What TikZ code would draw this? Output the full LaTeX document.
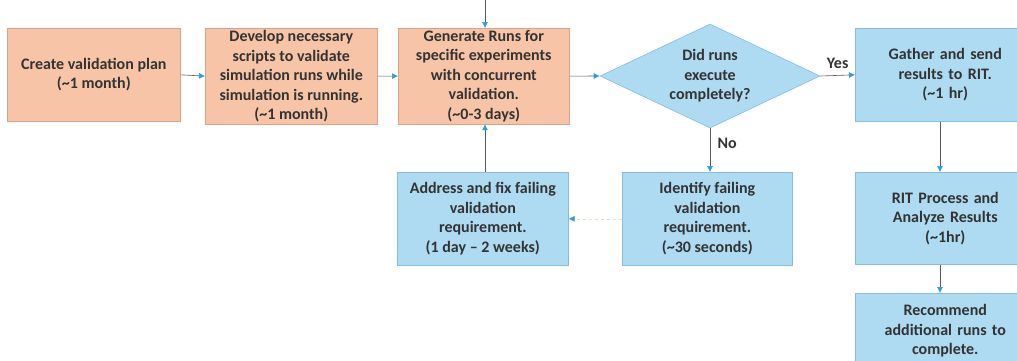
\documentclass[tikz,border=0pt]{standalone}
\usepackage{fontspec}
\setmainfont{Carlito}
\usetikzlibrary{arrows.meta,shapes.geometric}
\definecolor{orfill}{HTML}{F8C4A8}
\definecolor{ordraw}{HTML}{D8A488}
\definecolor{blfill}{HTML}{AEDAF2}
\definecolor{bldraw}{HTML}{86BEDC}
\definecolor{txt}{HTML}{333333}
\definecolor{tipblue}{HTML}{2E9AD6}
\tikzset{
  base/.style={font=\bfseries\fontsize{16}{19.5}\selectfont, text=txt, align=center, line width=0.6pt, inner sep=2pt},
  orbox/.style={base, draw=ordraw, fill=orfill, anchor=north west},
  blbox/.style={base, draw=bldraw, fill=blfill, anchor=north west},
  conn/.style={draw=gray!70!black, line width=0.6pt, -{Latex[length=6pt,width=6pt,color=tipblue]}},
  faint/.style={draw=yellow!40!gray!40, line width=0.6pt, dashed, -{Latex[length=6pt,width=6pt,color=tipblue]}},
  lbl/.style={font=\bfseries\fontsize{16}{18}\selectfont, text=txt}
}
\begin{document}
\begin{tikzpicture}[x=1pt,y=-1pt]
\useasboundingbox (0,0) rectangle (1017,360);
\begin{scope}
\clip (0,0) rectangle (1017,360);
\node[orbox, minimum width=173pt, minimum height=93pt] (a) at (7,28) {Create validation plan\\(\textasciitilde1 month)};
\node[orbox, minimum width=172pt, minimum height=93pt] (b) at (205,28) {Develop necessary\\scripts to validate\\simulation runs while\\simulation is running.\\(\textasciitilde1 month)};
\node[orbox, minimum width=171pt, minimum height=93pt] (c) at (398,28) {Generate Runs for\\specific experiments\\with concurrent\\validation.\\(\textasciitilde0-3 days)};
\node[diamond, base, draw=bldraw, fill=blfill, minimum width=220pt, minimum height=104pt, inner sep=0pt, aspect=2.1] (d) at (710,76) {Did runs\\execute\\completely?};
\node[blbox, minimum width=180pt, minimum height=93pt, text width=160pt] (e) at (855,28) {Gather and send\\results to RIT.\\(\textasciitilde1 hr)};
\node[blbox, minimum width=180pt, minimum height=92pt, text width=160pt] (f) at (855,172) {RIT Process and\\Analyze Results\\(\textasciitilde1hr)};
\node[blbox, minimum width=180pt, minimum height=92pt, text width=160pt] (g) at (855,293) {Recommend\\additional runs to\\complete.\\\phantom{x}};
\node[blbox, minimum width=170pt, minimum height=93pt] (h) at (622,172) {Identify failing\\validation\\requirement.\\(\textasciitilde30 seconds)};
\node[blbox, minimum width=171pt, minimum height=93pt] (i) at (397,172) {Address and fix failing\\validation\\requirement.\\(1 day -- 2 weeks)};
\coordinate (top) at (485,0);
\end{scope}
\draw[conn] (a.east) -- (b.west);
\draw[conn] (b.east) -- (c.west);
\draw[conn] (c.east) -- (d.west);
\draw[conn] (top) -- (top |- c.north);
\draw[conn] (d.east) -- node[lbl, above=3pt] {Yes} (e.west);
\draw[conn] (d.south) -- node[lbl, right=4pt, pos=0.35] {No} (h.north -| d.south);
\draw[faint] (h.west) -- (i.east);
\draw[conn] (i.north -| top) -- (c.south -| top);
\draw[conn] (e.south -| 940,0) -- (f.north -| 940,0);
\draw[conn] (f.south -| 940,0) -- (g.north -| 940,0);
\end{tikzpicture}
\end{document}
